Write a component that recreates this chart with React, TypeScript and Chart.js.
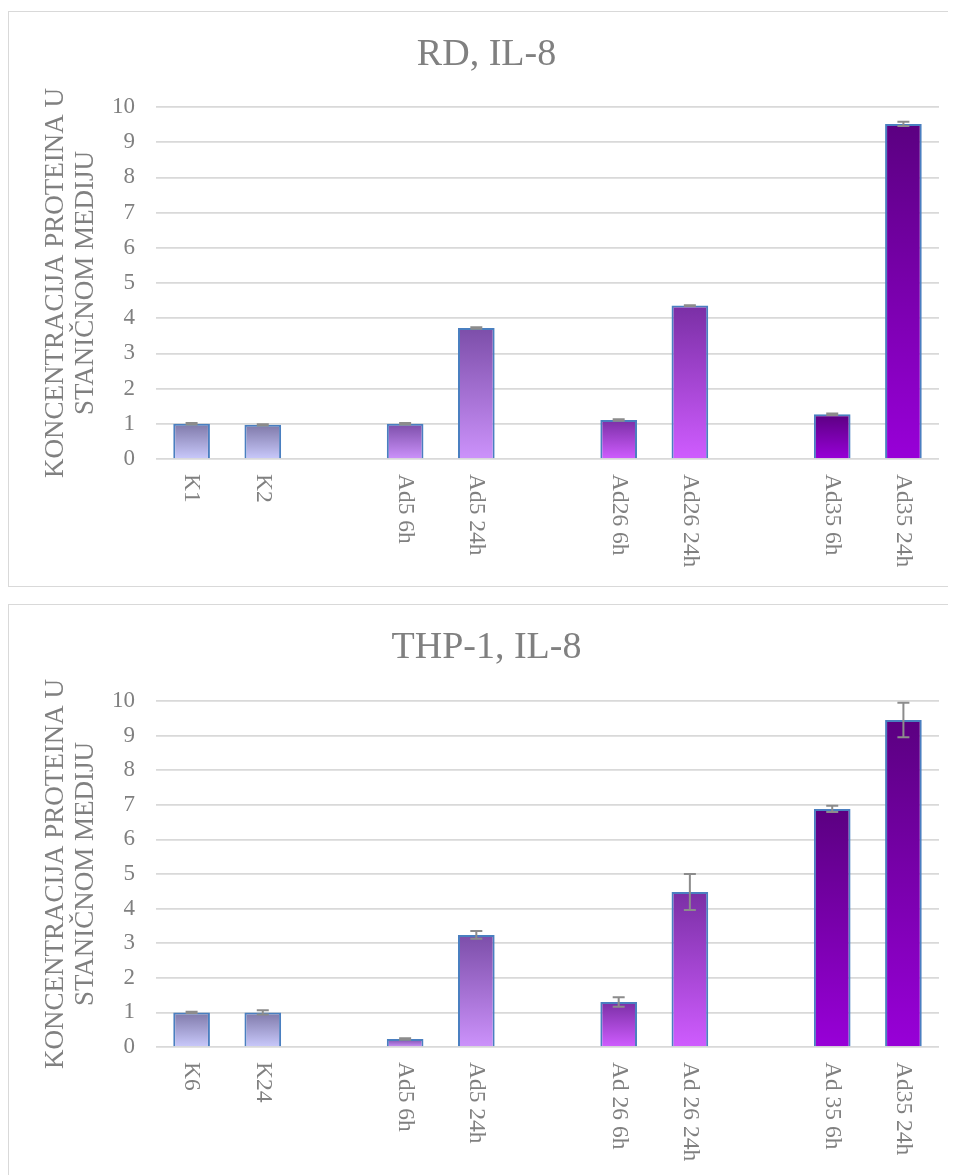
import React, { useEffect, useRef } from 'react';
import { Chart, registerables } from 'chart.js';

Chart.register(...registerables);

// ---------- data ----------
const rdTitle = 'RD, IL-8';
const rdCategories = ['K1', 'K2', '', 'Ad5 6h', 'Ad5 24h', '', 'Ad26 6h', 'Ad26 24h', '', 'Ad35 6h', 'Ad35 24h'];
const rdValues = [1.0, 0.97, null, 1.0, 3.72, null, 1.11, 4.36, null, 1.27, 9.52];
const rdErrors = [0.02, 0.02, null, 0.02, 0.02, null, 0.02, 0.01, null, 0.02, 0.06];

const thpTitle = 'THP-1, IL-8';
const thpCategories = ['K6', 'K24', '', 'Ad5 6h', 'Ad5 24h', '', 'Ad 26 6h', 'Ad 26 24h', '', 'Ad 35 6h', 'Ad35 24h'];
const thpValues = [1.0, 1.0, null, 0.23, 3.24, null, 1.3, 4.48, null, 6.88, 9.45];
const thpErrors = [0.02, 0.06, null, 0.02, 0.11, null, 0.14, 0.52, null, 0.09, 0.5];

const yAxisTitle = ['KONCENTRACIJA PROTEINA U', 'STANIČNOM MEDIJU'];
const yMin = 0;
const yMax = 10;
const yStep = 1;

// ---------- styles ----------
const barTopColors = ['#7f79a9', '#7f79a9', '#000', '#7c4ea9', '#7c4ea9', '#000', '#7a2fa5', '#7a2fa5', '#000', '#5b0081', '#5b0081'];
const barBottomColors = ['#c9c9fb', '#c9c9fb', '#000', '#cc92fb', '#cc92fb', '#000', '#cf5cff', '#cf5cff', '#000', '#9800d8', '#9800d8'];

const FONT = "'Liberation Serif', 'Times New Roman', serif";
const GRAY = '#808080';

type BoxProps = {
  title: string;
  categories: string[];
  values: (number | null)[];
  errors: (number | null)[];
  top: number;
  xAxisHeight: number;
  titlePadBottom: number;
};

function ChartBox({ title, categories, values, errors, top, xAxisHeight, titlePadBottom }: BoxProps) {
  const ref = useRef<HTMLCanvasElement | null>(null);

  useEffect(() => {
    if (!ref.current) return;

    const xLabelPlugin = {
      id: 'xLabelsRotated',
      afterDraw(chart: any) {
        const { ctx, chartArea, scales } = chart;
        const xs = scales.x;
        ctx.save();
        ctx.font = `23.5px ${FONT}`;
        ctx.fillStyle = GRAY;
        ctx.textAlign = 'left';
        ctx.textBaseline = 'middle';
        categories.forEach((lab, i) => {
          if (!lab) return;
          const px = xs.getPixelForValue(i);
          ctx.save();
          ctx.translate(px, chartArea.bottom + 15);
          ctx.rotate(Math.PI / 2);
          ctx.fillText(lab, 0, 0);
          ctx.restore();
        });
        ctx.restore();
      },
    };

    const errorBarPlugin = {
      id: 'errorBars',
      afterDatasetsDraw(chart: any) {
        const { ctx, scales } = chart;
        const xs = scales.x;
        const ys = scales.y;
        ctx.save();
        ctx.strokeStyle = '#8c8c8c';
        ctx.lineWidth = 2;
        values.forEach((v, i) => {
          const e = errors[i];
          if (v == null || e == null) return;
          const px = xs.getPixelForValue(i);
          const y1 = ys.getPixelForValue(v + e);
          const y2 = ys.getPixelForValue(v - e);
          const cap = 6;
          ctx.beginPath();
          ctx.moveTo(px, y1);
          ctx.lineTo(px, y2);
          ctx.moveTo(px - cap, y1);
          ctx.lineTo(px + cap, y1);
          ctx.moveTo(px - cap, y2);
          ctx.lineTo(px + cap, y2);
          ctx.stroke();
        });
        ctx.restore();
      },
    };

    const chart = new Chart(ref.current, {
      type: 'bar',
      data: {
        labels: categories,
        datasets: [
          {
            data: values as any,
            yAxisID: 'y',
            backgroundColor: (c: any) => {
              const i = c.dataIndex;
              const chartObj = c.chart;
              const ys = chartObj.scales && chartObj.scales.y;
              if (c.type !== 'data' || !chartObj.chartArea || !ys || c.raw == null) return barTopColors[i] || '#888';
              const yTop = ys.getPixelForValue(c.raw);
              const yBase = ys.getPixelForValue(0);
              if (!isFinite(yTop) || !isFinite(yBase) || yTop === yBase) return barTopColors[i];
              const g = chartObj.ctx.createLinearGradient(0, yTop, 0, yBase);
              g.addColorStop(0, barTopColors[i]);
              g.addColorStop(1, barBottomColors[i]);
              return g;
            },
            borderColor: '#4a7fc0',
            borderWidth: 2,
            barPercentage: 1,
            categoryPercentage: 0.515,
          },
        ],
      },
      options: {
        animation: false,
        responsive: false,
        devicePixelRatio: 1,
        layout: { padding: { left: 10, right: 0, top: 0, bottom: 0 } },
        plugins: {
          legend: { display: false },
          tooltip: { enabled: false },
          title: {
            display: true,
            text: title,
            color: GRAY,
            font: { family: FONT, size: 38, weight: 'normal', lineHeight: 1.2 },
            padding: { top: 20.2, bottom: titlePadBottom },
          },
        },
        scales: {
          x: {
            grid: { display: false },
            border: { display: false },
            ticks: { display: false },
            afterFit: (s: any) => {
              s.height = xAxisHeight;
            },
          },
          y: {
            position: 'left',
            min: yMin,
            max: yMax,
            ticks: {
              stepSize: yStep,
              color: GRAY,
              font: { family: FONT, size: 23 },
              padding: 21,
            },
            grid: { color: '#d9d9d9', lineWidth: 1.75, drawTicks: false },
            border: { display: false },
            title: {
              display: true,
              text: yAxisTitle,
              color: GRAY,
              font: { family: FONT, size: 27, lineHeight: 1.1 },
              padding: { top: 22.2, bottom: 0 },
            },
            afterFit: (s: any) => {
              s.width = 137;
            },
          },
          yRight: {
            position: 'right',
            display: true,
            min: yMin,
            max: yMax,
            grid: { display: false, drawTicks: false },
            border: { display: false },
            ticks: { display: false },
            title: { display: false },
            afterFit: (s: any) => {
              s.width = 15;
            },
          },
        },
      } as any,
      plugins: [xLabelPlugin, errorBarPlugin],
    });

    return () => chart.destroy();
  }, []);

  return (
    <div
      style={{
        position: 'absolute',
        left: 0,
        top,
        width: 947,
        height: 576,
        border: '1px solid #d9d9d9',
        boxSizing: 'border-box',
        background: '#fff',
      }}
    >
      <canvas ref={ref} width={945} height={573} style={{ display: 'block', width: 945, height: 573 }} />
    </div>
  );
}

export default function App() {
  return (
    <div style={{ position: 'relative', width: 947, height: 1167 }}>
      <ChartBox
        title={rdTitle}
        categories={rdCategories}
        values={rdValues}
        errors={rdErrors}
        top={3}
        xAxisHeight={126}
        titlePadBottom={29.2}
      />
      <ChartBox
        title={thpTitle}
        categories={thpCategories}
        values={thpValues}
        errors={thpErrors}
        top={596}
        xAxisHeight={131}
        titlePadBottom={30.2}
      />
    </div>
  );
}
